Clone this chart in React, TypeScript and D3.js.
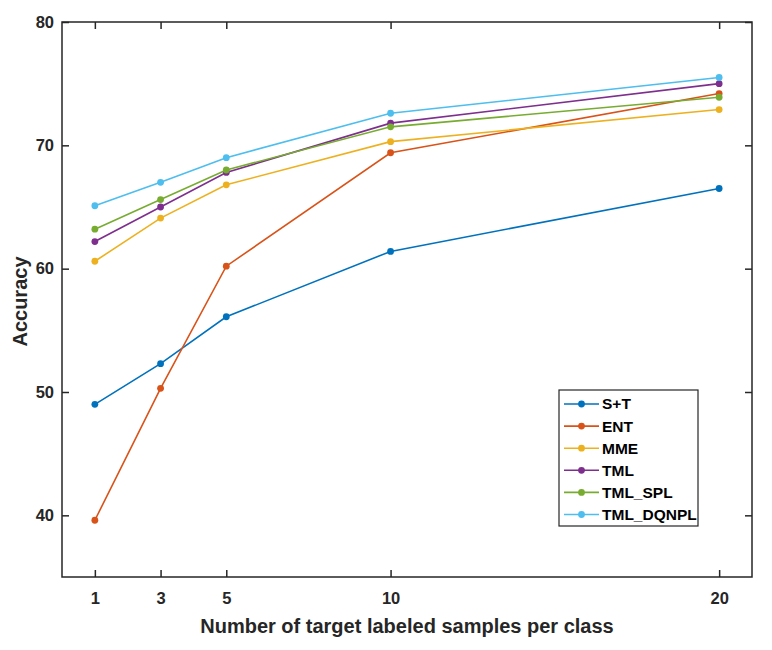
import * as d3 from "d3";
import { useEffect, useRef } from "react";

const samples = [1, 3, 5, 10, 20];
const seriesNames = ["S+T", "ENT", "MME", "TML", "TML_SPL", "TML_DQNPL"];
const seriesColors = ["#0072BD", "#D95319", "#EDB120", "#7E2F8E", "#77AC30", "#4DBEEE"];

const stValues = [49.0, 52.3, 56.1, 61.4, 66.5];
const entValues = [39.6, 50.3, 60.2, 69.4, 74.2];
const mmeValues = [60.6, 64.1, 66.8, 70.3, 72.9];
const tmlValues = [62.2, 65.0, 67.8, 71.8, 75.0];
const tmlSplValues = [63.2, 65.6, 68.0, 71.5, 73.9];
const tmlDqnplValues = [65.1, 67.0, 69.0, 72.6, 75.5];

const yTicks = [40, 50, 60, 70, 80];

export default function App() {
  const svgRef = useRef<SVGSVGElement | null>(null);

  useEffect(() => {
    if (!svgRef.current) return;
    const svg = d3.select(svgRef.current);
    const width = 772;
    const height = 650;
    const margin = { top: 22, right: 20, bottom: 73, left: 62 };
    const axisColor = "#262626";
    const font = "'Liberation Sans', Arial, Helvetica, sans-serif";

    svg.selectAll("*").remove();
    svg.attr("viewBox", `0 0 ${width} ${height}`);

    const x = d3.scaleLinear().domain([0, 21]).range([margin.left, width - margin.right]);
    const y = d3.scaleLinear().domain([35, 80]).range([height - margin.bottom, margin.top]);

    const allSeries = [stValues, entValues, mmeValues, tmlValues, tmlSplValues, tmlDqnplValues];

    const line = d3
      .line<number>()
      .x((_, i) => x(samples[i]))
      .y((d) => y(d));

    allSeries.forEach((vals, k) => {
      const g = svg.append("g");
      g.append("path")
        .datum(vals)
        .attr("fill", "none")
        .attr("stroke", seriesColors[k])
        .attr("stroke-width", 1.6)
        .attr("d", line);
      g.selectAll("circle")
        .data(vals)
        .join("circle")
        .attr("cx", (_, i) => x(samples[i]))
        .attr("cy", (d) => y(d))
        .attr("r", 3.4)
        .attr("fill", seriesColors[k]);
    });

    const tickLen = 7;
    const [x0, x1] = x.range();
    const [y0, y1] = y.range();

    const xAxisGroup = svg
      .append("g")
      .attr("transform", `translate(0,${y0})`)
      .call(d3.axisBottom(x).tickValues(samples).tickSize(-tickLen).tickPadding(15).tickFormat(d3.format("d")) as any);
    const xTopGroup = svg
      .append("g")
      .attr("transform", `translate(0,${y1})`)
      .call(d3.axisTop(x).tickValues(samples).tickSize(-tickLen).tickFormat(() => "") as any);
    const yAxisGroup = svg
      .append("g")
      .attr("transform", `translate(${x0},0)`)
      .call(d3.axisLeft(y).tickValues(yTicks).tickSize(-tickLen).tickPadding(8) as any);
    const yRightGroup = svg
      .append("g")
      .attr("transform", `translate(${x1},0)`)
      .call(d3.axisRight(y).tickValues(yTicks).tickSize(-tickLen).tickFormat(() => "") as any);

    [xAxisGroup, xTopGroup, yAxisGroup, yRightGroup].forEach((g) => {
      g.select(".domain").remove();
      g.selectAll("line").attr("stroke", axisColor).attr("stroke-width", 1.5);
      g.selectAll("text")
        .attr("fill", axisColor)
        .attr("font-size", 16.5)
        .attr("font-weight", "bold")
        .attr("font-family", font);
    });

    // plot frame
    svg
      .append("rect")
      .attr("x", x0)
      .attr("y", y1)
      .attr("width", x1 - x0)
      .attr("height", y0 - y1)
      .attr("fill", "none")
      .attr("stroke", axisColor)
      .attr("stroke-width", 1.5);

    svg
      .append("text")
      .attr("x", (x0 + x1) / 2)
      .attr("y", 633)
      .attr("text-anchor", "middle")
      .attr("font-size", 20)
      .attr("font-weight", "bold")
      .attr("font-family", font)
      .attr("fill", axisColor)
      .text("Number of target labeled samples per class");

    svg
      .append("text")
      .attr("transform", `translate(26.5,${(y0 + y1) / 2 + 2}) rotate(-90)`)
      .attr("text-anchor", "middle")
      .attr("font-size", 20)
      .attr("font-weight", "bold")
      .attr("font-family", font)
      .attr("fill", axisColor)
      .text("Accuracy");

    // legend
    const legend = svg.append("g").attr("transform", "translate(559,390)");
    legend
      .append("rect")
      .attr("width", 139)
      .attr("height", 136)
      .attr("fill", "#ffffff")
      .attr("stroke", axisColor)
      .attr("stroke-width", 1.2);
    seriesNames.forEach((name, k) => {
      const row = legend.append("g").attr("transform", `translate(0,${14 + k * 22.1})`);
      row.append("line")
        .attr("x1", 5)
        .attr("x2", 40)
        .attr("stroke", seriesColors[k])
        .attr("stroke-width", 1.6);
      row.append("circle").attr("cx", 22.5).attr("r", 3.4).attr("fill", seriesColors[k]);
      row.append("text")
        .attr("x", 43)
        .attr("dy", "0.35em")
        .attr("font-size", 15.5)
        .attr("font-weight", "bold")
        .attr("font-family", font)
        .attr("fill", "#000000")
        .text(name);
    });
  }, []);

  return (
    <svg
      ref={svgRef}
      width={772}
      height={650}
      style={{ position: "absolute", left: 0, top: 0, background: "#ffffff" }}
      aria-label="Accuracy chart"
    />
  );
}
